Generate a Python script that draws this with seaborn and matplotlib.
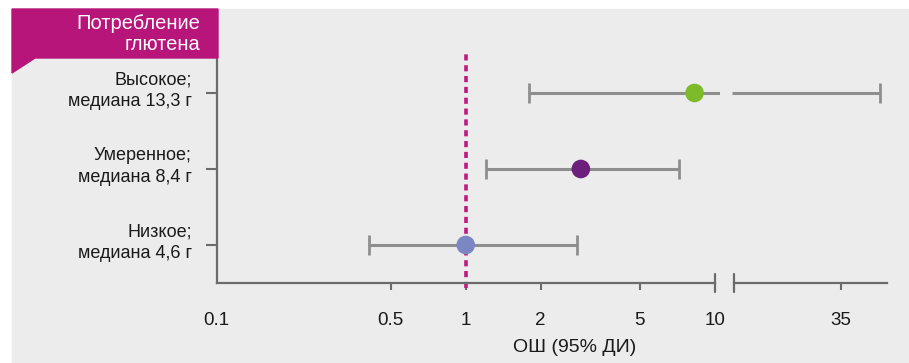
import matplotlib
matplotlib.use("Agg")
import matplotlib.pyplot as plt
import matplotlib.transforms as mtransforms
import seaborn as sns
import pandas as pd
from matplotlib.patches import Rectangle, Polygon

# data
groups = ["Низкое;\nмедиана 4,6 г", "Умеренное;\nмедиана 8,4 г", "Высокое;\nмедиана 13,3 г"]
odds = [1.0, 2.9, 8.3]
ci_low = [0.41, 1.21, 1.79]
ci_high = [2.79, 7.2, 50.0]
colors = ["#7b87c3", "#6d1f7c", "#7dbb2a"]
main_ticks = [0.1, 0.5, 1, 2, 5, 10]
main_labels = ["0.1", "0.5", "1", "2", "5", "10"]
break_ticks = [35]
break_labels = ["35"]
main_range = (0.1, 10.5)
break_range = (13.0, 53.5)

df = pd.DataFrame({"group": groups, "row": range(len(groups)),
                   "odds": odds, "lo": ci_low, "hi": ci_high})

sns.set_theme(style="white")
plt.rcParams["font.family"] = ["Liberation Sans", "DejaVu Sans"]
plt.rcParams["axes.facecolor"] = "none"

W, H = 909, 363
fig = plt.figure(figsize=(W / 100, H / 100), dpi=100)
fig.patches.append(Rectangle((12 / W, 0), 1, (H - 9) / H, transform=fig.transFigure,
                             color="#ececec", zorder=-5))

ax = fig.add_axes([216.7 / W, 80 / H, (720 - 216.7) / W, 225 / H])
ax2 = fig.add_axes([734 / W, 80 / H, (887 - 734) / W, 225 / H])

axis_col = "#6b6b6b"
bar_col = "#8e8e8e"
txt_col = "#1a1a1a"
ylim = (-0.5, 2.46)

for a, rng in ((ax, main_range), (ax2, break_range)):
    a.set_xscale("log")
    a.set_xlim(*rng)
    a.set_ylim(*ylim)
    a.minorticks_off()
    for s in ("top", "right"):
        a.spines[s].set_visible(False)
    a.spines["bottom"].set_color(axis_col)
    a.spines["bottom"].set_linewidth(1.6)
    a.tick_params(axis="x", length=5, width=1.5, color=axis_col, pad=16,
                  labelsize=13.5, labelcolor=txt_col, direction="out", bottom=True)

# confidence intervals
for _, r in df.iterrows():
    ax.hlines(r.row, r.lo, min(r.hi, main_range[1]), color=bar_col, lw=2.2, zorder=2)
    caps = [v for v in (r.lo, r.hi) if v <= 10]
    ax.plot(caps, [r.row] * len(caps), ls="none", marker="|", ms=15, mew=2,
            color=bar_col, zorder=2)
    if r.hi > break_range[0]:
        ax2.hlines(r.row, break_range[0] * 0.985, r.hi, color=bar_col, lw=2.2,
                   zorder=2, clip_on=False)
        ax2.plot([r.hi], [r.row], ls="none", marker="|", ms=15, mew=2,
                 color=bar_col, zorder=2)

# reference line at OR = 1
ax.axvline(1, ymin=-5 / 225, ymax=1 + 8 / 225, color="#bf1a7f", lw=2.6,
           ls=(0, (1.7, 1.3)), clip_on=False, zorder=1)

sns.scatterplot(data=df, x="odds", y="row", hue="group", palette=colors, s=180,
                edgecolor="none", legend=False, ax=ax, zorder=3)

# main axis
ax.set_xticks(main_ticks, labels=main_labels)
ax.spines["bottom"].set_bounds(0.1, 10)
ax.spines["left"].set_color(axis_col)
ax.spines["left"].set_linewidth(1.6)
ticks = ax.xaxis.get_major_ticks()
ticks[0].tick1line.set_visible(False)
ticks[-1].tick1line.set_visible(False)
ax.set_yticks(df["row"], labels=groups)
ax.tick_params(axis="y", length=8, width=1.5, color=axis_col, pad=10,
               labelsize=13, labelcolor=txt_col, left=True)
shift = mtransforms.ScaledTranslation(0, 5 / 72, fig.dpi_scale_trans)
for t in ax.get_yticklabels():
    t.set_multialignment("right")
    t.set_linespacing(1.35)
    t.set_transform(t.get_transform() + shift)
ax.set_xlabel("")
ax.set_ylabel("")
ax.plot([10, 10], [-0.04, 0.04], color=axis_col, lw=1.6,
        transform=ax.get_xaxis_transform(), clip_on=False)

# broken part of the axis
ax2.set_xticks(break_ticks, labels=break_labels)
ax2.spines["left"].set_visible(False)
ax2.set_yticks([])
ax2.plot([0, 0], [-0.04, 0.04], color=axis_col, lw=1.6,
         transform=ax2.transAxes, clip_on=False)

fig.text(575 / W, 1 - 348 / H, "ОШ (95% ДИ)", ha="center", va="center",
         fontsize=14, color=txt_col)

# header box
pts = [(12, 9), (218, 9), (218, 58), (35, 58), (12, 73)]
fig.patches.append(Polygon([(x / W, 1 - y / H) for x, y in pts], closed=True,
                           transform=fig.transFigure, color="#b8157b", zorder=5))
fig.text(200 / W, 1 - 34 / H, "Потребление\nглютена", ha="right", va="center",
         ma="right", fontsize=14.5, linespacing=1.15, color="white", zorder=6)

fig.savefig("out.png", dpi=100)
